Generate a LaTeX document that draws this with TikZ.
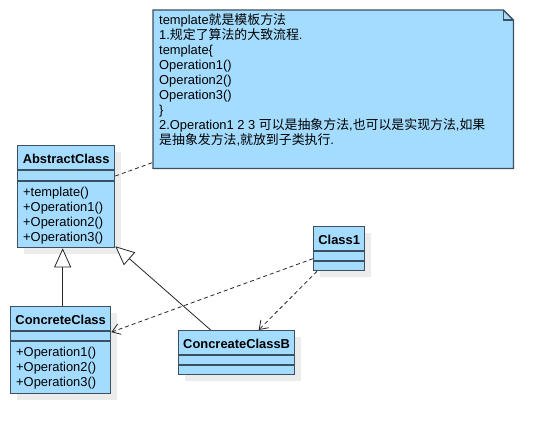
\documentclass[tikz,border=0pt]{standalone}
\usepackage{fontspec}
\setmainfont{Liberation Sans}
\newfontfamily\cjk{Noto Sans CJK SC}
\usetikzlibrary{arrows.meta,shadows}
\definecolor{umlfill}{RGB}{163,220,254}
\definecolor{umlline}{RGB}{60,80,95}
\definecolor{shadowc}{RGB}{236,236,236}
\begin{document}
\begin{tikzpicture}[x=1pt,y=-1pt,
  classbox/.style={draw=umlline, line width=1.3pt, fill=umlfill, rectangle, inner sep=0pt, anchor=north west,
    general shadow={fill=shadowc, shadow xshift=6pt, shadow yshift=-6pt}},
  cname/.style={font=\bfseries\fontsize{12.9}{15}\selectfont, anchor=base, inner sep=0pt},
  member/.style={font=\fontsize{12.9}{15}\selectfont, anchor=base west, inner sep=0pt},
  sepline/.style={draw=umlline, line width=1.3pt},
  inherit/.style={draw=black!85, line width=0.8pt, -{Triangle[open,length=19pt,width=17pt,fill=white]}},
  depend/.style={draw=black!85, line width=0.8pt, dash pattern=on 4pt off 3pt, -{Straight Barb[length=8pt,width=11pt]}},
  notelink/.style={draw=black!85, line width=0.8pt, dash pattern=on 4pt off 3pt},
  ]
\fill[white] (0,0) rectangle (554,433);
\useasboundingbox (0,0) rectangle (554,433);

% note
\node[draw=none, minimum width=360pt, minimum height=158pt, inner sep=0pt, anchor=north west] (note) at (153,10) {};
\filldraw[draw=umlline, line width=1.3pt, fill=umlfill] (note.north west) -- ([xshift=-10pt]note.north east) -- ([yshift=-10pt]note.north east) -- (note.south east) -- (note.south west) -- cycle;
\draw[umlline, line width=1.3pt] ([xshift=-10pt]note.north east) -- ([xshift=-10pt,yshift=-10pt]note.north east) -- ([yshift=-10pt]note.north east);
\node[member] (notel1) at (159,25) {template{\cjk 就是模板方法}};
\node[member] (notel2) at (159,40) {1.{\cjk 规定了算法的大致流程}.};
\node[member] (notel3) at (159,55) {template\{};
\node[member] (notel4) at (159,70) {Operation1()};
\node[member] (notel5) at (159,85) {Operation2()};
\node[member] (notel6) at (159,100) {Operation3()};
\node[member] (notel7) at (159,115) {\}};
\node[member] (notel8) at (159,130) {2.Operation1 2 3 {\cjk 可以是抽象方法},{\cjk 也可以是实现方法},{\cjk 如果}};
\node[member] (notel9) at (159,145) {{\cjk 是抽象发方法},{\cjk 就放到子类执行}.};

% AbstractClass
\node[classbox, minimum width=97pt, minimum height=102pt] (abs) at (17,145) {};
\draw[sepline] ([yshift=-25pt]abs.north west) -- ([yshift=-25pt]abs.north east);
\draw[sepline] ([yshift=-36pt]abs.north west) -- ([yshift=-36pt]abs.north east);
\node[cname] (absname) at ([yshift=-19pt]abs.north) {AbstractClass};
\node[member] (absm1) at ([shift={(6pt,-51.5pt)}]abs.north west) {+template()};
\node[member] (absm2) at ([shift={(6pt,-66.5pt)}]abs.north west) {+Operation1()};
\node[member] (absm3) at ([shift={(6pt,-81.5pt)}]abs.north west) {+Operation2()};
\node[member] (absm4) at ([shift={(6pt,-96.5pt)}]abs.north west) {+Operation3()};

% ConcreteClass
\node[classbox, minimum width=100pt, minimum height=87pt] (cc) at (10,306) {};
\draw[sepline] ([yshift=-25pt]cc.north west) -- ([yshift=-25pt]cc.north east);
\draw[sepline] ([yshift=-35pt]cc.north west) -- ([yshift=-35pt]cc.north east);
\node[cname] (ccname) at ([yshift=-18pt]cc.north) {ConcreteClass};
\node[member] (ccm1) at ([shift={(6pt,-50pt)}]cc.north west) {+Operation1()};
\node[member] (ccm2) at ([shift={(6pt,-65pt)}]cc.north west) {+Operation2()};
\node[member] (ccm3) at ([shift={(6pt,-80pt)}]cc.north west) {+Operation3()};

% ConcreateClassB
\node[classbox, minimum width=116pt, minimum height=44pt] (ccb) at (178,330) {};
\draw[sepline] ([yshift=-25pt]ccb.north west) -- ([yshift=-25pt]ccb.north east);
\draw[sepline] ([yshift=-35pt]ccb.north west) -- ([yshift=-35pt]ccb.north east);
\node[cname] (ccbname) at ([yshift=-18pt]ccb.north) {ConcreateClassB};

% Class1
\node[classbox, minimum width=51pt, minimum height=44pt] (c1) at (313,226) {};
\draw[sepline] ([yshift=-25pt]c1.north west) -- ([yshift=-25pt]c1.north east);
\draw[sepline] ([yshift=-35pt]c1.north west) -- ([yshift=-35pt]c1.north east);
\node[cname] (c1name) at ([yshift=-18pt]c1.north) {Class1};

% connectors
\draw[notelink] ([yshift=-31pt]abs.north east) -- ([yshift=6pt]note.south west);
\draw[inherit] ([xshift=2pt]cc.north) -- ([xshift=2pt]cc.north |- abs.south);
\draw[inherit] ([xshift=-26pt]ccb.north) -- ([yshift=2pt]abs.south east);
\draw[depend] ([yshift=-10pt]c1.west) -- ([yshift=18pt]cc.east);
\draw[depend] ([xshift=4pt]c1.south west) -- ([xshift=22pt]ccb.north);
\end{tikzpicture}
\end{document}
